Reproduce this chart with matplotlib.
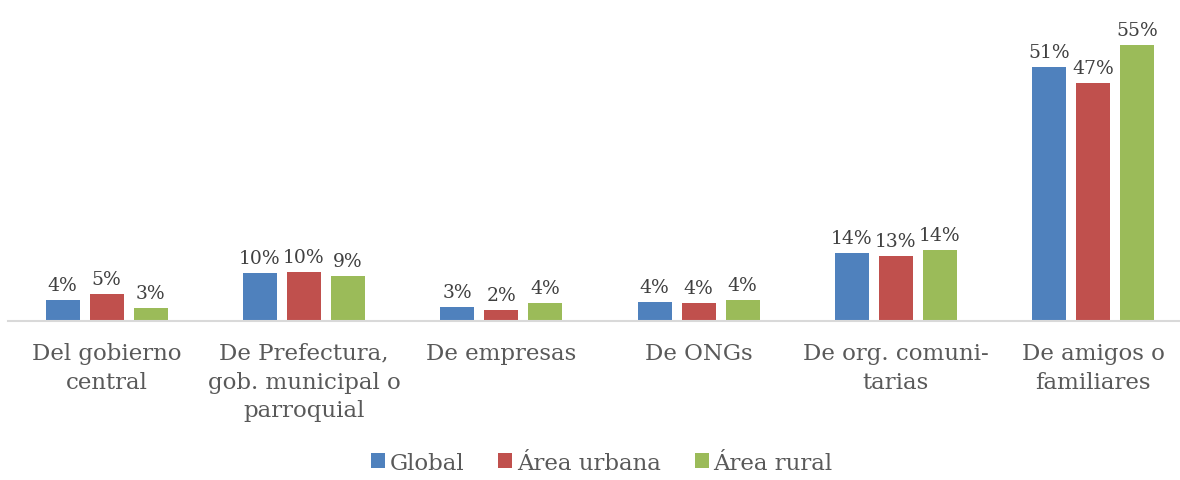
import matplotlib.pyplot as plt
import numpy as np

# Categories and series (percent)
categories = ["Del gobierno\ncentral", "De Prefectura,\ngob. municipal o\nparroquial",
              "De empresas", "De ONGs", "De org. comuni-\ntarias", "De amigos o\nfamiliares"]
global_vals = [4.1, 9.5, 2.8, 3.8, 13.5, 50.7]
urbana_vals = [5.3, 9.8, 2.2, 3.6, 12.9, 47.4]
rural_vals = [2.6, 9.0, 3.6, 4.2, 14.2, 55.0]
series_names = ["Global", "Área urbana", "Área rural"]
colors = ["#4F81BD", "#C0504D", "#9BBB59"]

plt.rcParams['font.family'] = ['DejaVu Serif']
text_color = "#595959"

fig = plt.figure(figsize=(11.8, 4.81), dpi=100)
ax = fig.add_axes([8 / 1180, 159 / 481, 1172 / 1180, 301 / 481])

x = np.arange(len(categories))
width = 0.173
step = 0.223
for i, (vals, name, c) in enumerate(zip([global_vals, urbana_vals, rural_vals], series_names, colors)):
    bars = ax.bar(x + (i - 1) * step, vals, width, color=c, label=name)
    for b, v in zip(bars, vals):
        ax.text(b.get_x() + b.get_width() / 2, v + 1.2, f"{v:.0f}%", ha='center', va='bottom',
                fontsize=13.5, color="#404040")

ax.set_xlim(-0.5, 5.44)
ax.set_ylim(0, 60)
ax.set_yticks([])
ax.set_xticks(x)
ax.set_xticklabels(categories, fontsize=16.5, color=text_color, linespacing=1.4)
ax.tick_params(axis='x', length=0, pad=15)
for s in ['top', 'right', 'left']:
    ax.spines[s].set_visible(False)
ax.spines['bottom'].set_color("#D9D9D9")
ax.spines['bottom'].set_linewidth(1.5)

leg = fig.legend(loc='lower center', bbox_to_anchor=(0.51, -0.03), ncol=3, frameon=False,
                 fontsize=16.5, handlelength=0.6, handleheight=0.6, handletextpad=0.2,
                 columnspacing=1.5)
for t in leg.get_texts():
    t.set_color(text_color)

fig.savefig("out.png", dpi=100)
